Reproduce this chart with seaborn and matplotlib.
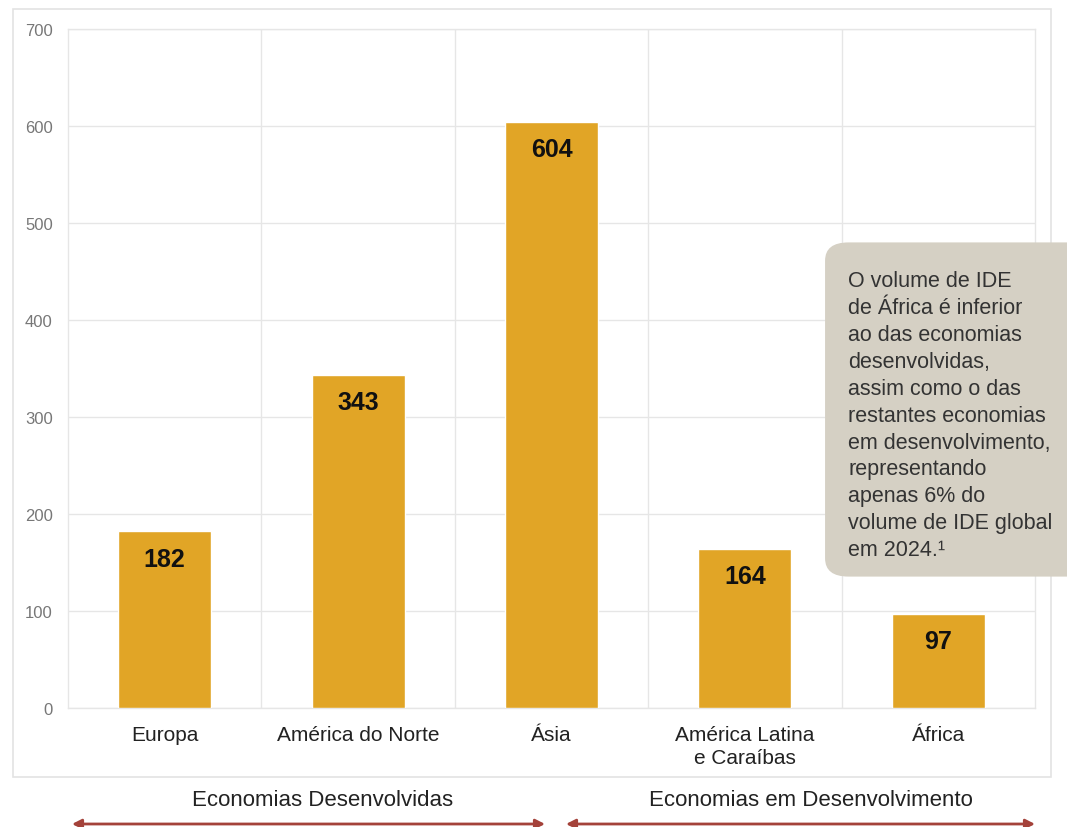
import pandas as pd
import matplotlib.pyplot as plt
import seaborn as sns
from matplotlib.patches import FancyBboxPatch, Rectangle, FancyArrowPatch

# Data
regions = ['Europa', 'América do Norte', 'Ásia', 'América Latina\ne Caraíbas', 'África']
ide_values = [182, 343, 604, 164, 97]
groups = ['Economias Desenvolvidas', 'Economias em Desenvolvimento']
note = ('O volume de IDE\nde África é inferior\nao das economias\ndesenvolvidas,\n'
        'assim como o das\nrestantes economias\nem desenvolvimento,\nrepresentando\n'
        'apenas 6% do\nvolume de IDE global\nem 2024.¹')

df = pd.DataFrame({'regiao': regions, 'valor': ide_values})

sns.set_style('white')
plt.rcParams['font.family'] = ['Liberation Sans', 'DejaVu Sans']

W, H = 1067, 828
fig = plt.figure(figsize=(W / 100, H / 100), dpi=100)
ax = fig.add_axes([68 / W, 1 - 709 / H, (1035 - 68) / W, (709 - 30) / H])

sns.barplot(data=df, x='regiao', y='valor', color='#E1A526', saturation=1,
            width=0.48, ax=ax, zorder=3)

ax.set_xlim(-0.5, len(regions) - 0.5)
ax.set_ylim(0, 700)
ax.set_yticks(range(0, 701, 100))
ax.set_xticks([i + 0.5 for i in range(len(regions) - 1)], minor=True)
ax.grid(axis='y', which='major', color='#e6e6e6', lw=1, zorder=0)
ax.grid(axis='x', which='minor', color='#e6e6e6', lw=1, zorder=0)
ax.tick_params(axis='x', which='both', length=0, pad=12, labelsize=15, labelcolor='#222222')
ax.tick_params(axis='y', length=0, pad=11, labelsize=12, labelcolor='#777777')
for lbl in ax.get_xticklabels():
    lbl.set_linespacing(1.32)
for s in ax.spines.values():
    s.set_color('#e6e6e6')
    s.set_linewidth(1)
ax.set_xlabel('')
ax.set_ylabel('')

for i, v in enumerate(ide_values):
    ax.annotate(str(v), (i, v), xytext=(0, -19.5), textcoords='offset points',
                ha='center', va='center', fontsize=18, fontweight='bold',
                color='#111111', zorder=4)

# outer frame
fig.patches.append(Rectangle((13 / W, 1 - 778 / H), (1051 - 13) / W, (778 - 10) / H,
                             transform=fig.transFigure, fill=False,
                             edgecolor='#e3e3e3', lw=1.2))

# note box
fig.patches.append(FancyBboxPatch((840 / W, 1 - 566 / H), 260 / W, 311 / H,
                                  boxstyle='round,pad=0.014,rounding_size=0.022',
                                  transform=fig.transFigure, facecolor='#D5D0C4',
                                  edgecolor='none', zorder=5))
fig.text(848 / W, 1 - 271 / H, note, ha='left', va='top', fontsize=15.5,
         color='#333333', linespacing=1.37, zorder=6)

# group labels and arrows
fig.text(323 / W, 1 - 801 / H, groups[0], ha='center', va='center', fontsize=16, color='#222222')
fig.text(811 / W, 1 - 801 / H, groups[1], ha='center', va='center', fontsize=16, color='#222222')
for x0, x1 in [(72, 545), (566, 1035)]:
    fig.add_artist(FancyArrowPatch(
        (x0 / W, 1 - 825 / H), (x1 / W, 1 - 825 / H), transform=fig.transFigure,
        arrowstyle='<|-|>,head_length=5.5,head_width=2.8', color='#A4423A', lw=2,
        shrinkA=0, shrinkB=0))

fig.savefig('out.png', dpi=100)
